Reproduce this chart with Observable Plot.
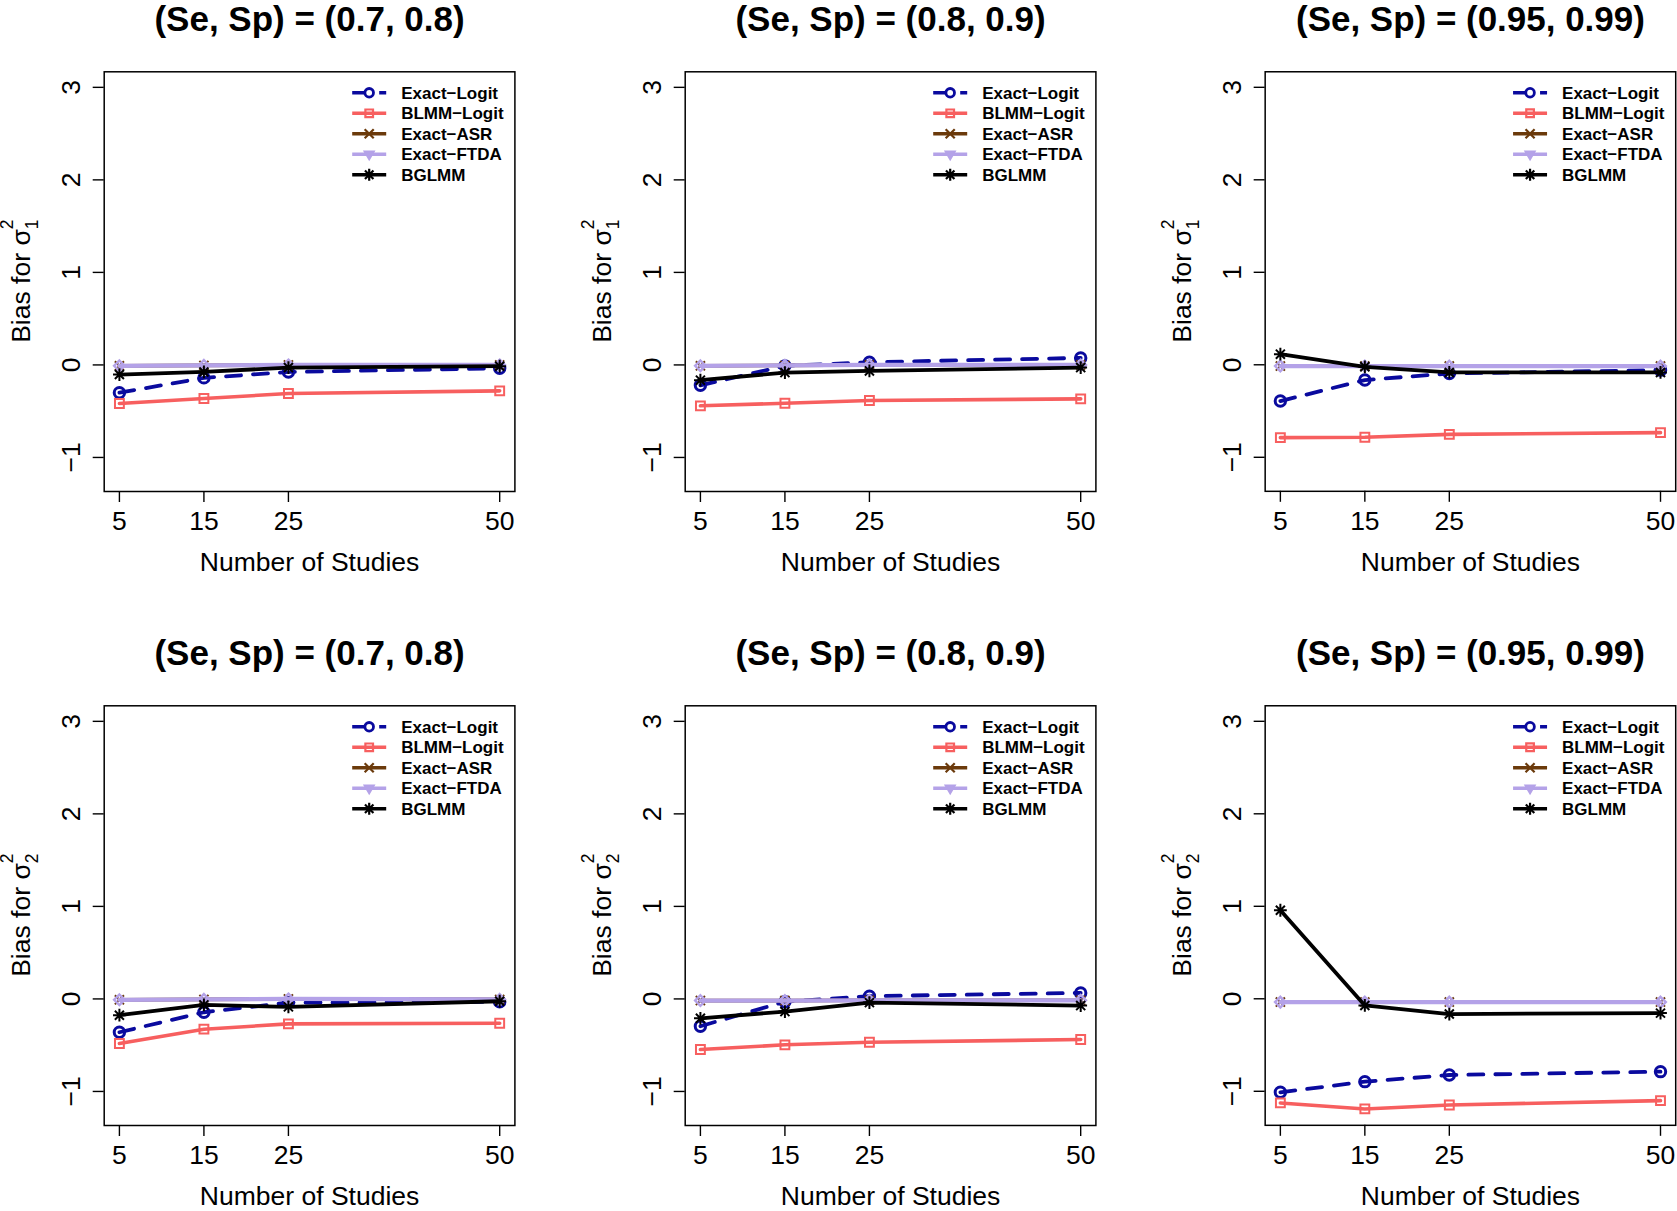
<!DOCTYPE html>
<html><head><meta charset="utf-8">
<script src="https://cdn.jsdelivr.net/npm/d3@7"></script>
<script src="https://cdn.jsdelivr.net/npm/@observablehq/plot@0.6"></script>
<style>
html,body{margin:0;padding:0;background:#fff;overflow:hidden;width:1677px;height:1211px;}
.panel{position:absolute;}
</style></head><body><div id="root"></div>
<script>
// ---------- data ----------
const studies = [5, 15, 25, 50];
const xTicks = [5, 15, 25, 50];
const yTicks = [-1, 0, 1, 2, 3];
const methods = ["Exact\u2212Logit", "BLMM\u2212Logit", "Exact\u2212ASR", "Exact\u2212FTDA", "BGLMM"];
const panelTitles = ["(Se, Sp) = (0.7, 0.8)", "(Se, Sp) = (0.8, 0.9)", "(Se, Sp) = (0.95, 0.99)"];
const xLabel = "Number of Studies";

// sigma_1^2 (top row)
const logitS1A = [-0.30, -0.14, -0.076, -0.036];
const blmmS1A  = [-0.417, -0.363, -0.309, -0.28];
const asrS1A   = [-0.01, -0.005, 0, 0];
const ftdaS1A  = [-0.01, -0.005, 0, 0];
const bglmmS1A = [-0.104, -0.076, -0.029, -0.014];

const logitS1B = [-0.22, -0.01, 0.029, 0.076];
const blmmS1B  = [-0.442, -0.414, -0.385, -0.367];
const asrS1B   = [-0.01, -0.005, 0, 0];
const ftdaS1B  = [-0.01, -0.005, 0, 0];
const bglmmS1B = [-0.165, -0.083, -0.065, -0.029];

const logitS1C = [-0.392, -0.165, -0.094, -0.058];
const blmmS1C  = [-0.788, -0.784, -0.752, -0.734];
const asrS1C   = [-0.014, -0.014, -0.014, -0.014];
const ftdaS1C  = [-0.014, -0.014, -0.014, -0.014];
const bglmmS1C = [0.115, -0.022, -0.083, -0.083];

// sigma_2^2 (bottom row)
const logitS2A = [-0.36, -0.144, -0.04, -0.032];
const blmmS2A  = [-0.482, -0.327, -0.27, -0.263];
const asrS2A   = [-0.01, -0.005, 0, -0.005];
const ftdaS2A  = [-0.01, -0.005, 0, -0.005];
const bglmmS2A = [-0.176, -0.065, -0.086, -0.025];

const logitS2B = [-0.295, -0.03, 0.03, 0.065];
const blmmS2B  = [-0.547, -0.496, -0.468, -0.439];
const asrS2B   = [-0.018, -0.018, -0.015, -0.015];
const ftdaS2B  = [-0.018, -0.018, -0.015, -0.015];
const bglmmS2B = [-0.21, -0.137, -0.04, -0.072];

const logitS2C = [-1.011, -0.896, -0.824, -0.788];
const blmmS2C  = [-1.126, -1.191, -1.148, -1.101];
const asrS2C   = [-0.036, -0.036, -0.036, -0.036];
const ftdaS2C  = [-0.036, -0.036, -0.036, -0.036];
const bglmmS2C = [0.957, -0.072, -0.165, -0.155];

// ---------- styling ----------
const FONT = '"Liberation Sans", Arial, Helvetica, sans-serif';
const colors = ["#0A0A9E", "#F75F5F", "#6B3A0B", "#B4A2E8", "#000000"];

const asterisk8 = {
  draw(ctx, size) {
    const r = Math.sqrt(size / Math.PI), d = r / Math.SQRT2;
    ctx.moveTo(-r, 0); ctx.lineTo(r, 0);
    ctx.moveTo(0, -r); ctx.lineTo(0, r);
    ctx.moveTo(-d, -d); ctx.lineTo(d, d);
    ctx.moveTo(-d, d); ctx.lineTo(d, -d);
  }
};
const triDown = {
  draw(ctx, size) {
    const r = Math.sqrt(size / Math.PI);
    ctx.moveTo(-r, -r * 0.6); ctx.lineTo(r, -r * 0.6); ctx.lineTo(0, r * 1.1); ctx.closePath();
  }
};

const lineStyles = [
  {stroke: colors[0], strokeWidth: 3.8, strokeDasharray: "15,12"},
  {stroke: colors[1], strokeWidth: 3.6},
  {stroke: colors[2], strokeWidth: 3.6},
  {stroke: colors[3], strokeWidth: 4.2},
  {stroke: colors[4], strokeWidth: 3.8}
];
const dotStyles = [
  {symbol: "circle", r: 5.2, stroke: colors[0], strokeWidth: 3, fill: "none"},
  {symbol: "square", r: 5, stroke: colors[1], strokeWidth: 2, fill: "none"},
  {symbol: "times", r: 4.2, stroke: colors[2], strokeWidth: 2, fill: "none"},
  {symbol: "diamond2", r: 4.8, stroke: colors[3], strokeWidth: 2.4, fill: "none"},
  {symbol: asterisk8, r: 6.4, stroke: colors[4], strokeWidth: 2, fill: "none"}
];

const panels = [
  {title: panelTitles[0], sub: "1", series: [logitS1A, blmmS1A, asrS1A, ftdaS1A, bglmmS1A]},
  {title: panelTitles[1], sub: "1", series: [logitS1B, blmmS1B, asrS1B, ftdaS1B, bglmmS1B]},
  {title: panelTitles[2], sub: "1", series: [logitS1C, blmmS1C, asrS1C, ftdaS1C, bglmmS1C]},
  {title: panelTitles[0], sub: "2", series: [logitS2A, blmmS2A, asrS2A, ftdaS2A, bglmmS2A]},
  {title: panelTitles[1], sub: "2", series: [logitS2B, blmmS2B, asrS2B, ftdaS2B, bglmmS2B]},
  {title: panelTitles[2], sub: "2", series: [logitS2C, blmmS2C, asrS2C, ftdaS2C, bglmmS2C]}
];

function yLabelMark(sub) {
  return (index, scales, values, dims) => {
    const cy = (dims.marginTop + dims.height - dims.marginBottom) / 2;
    const t = d3.create("svg:text")
      .attr("transform", `translate(30.4,${cy}) rotate(-90)`)
      .attr("text-anchor", "middle").attr("font-size", 26.5)
      .attr("font-family", FONT).attr("fill", "black");
    t.append("tspan").text("Bias for \u03C3");
    t.append("tspan").attr("font-size", 17.5).attr("dy", 7.6).text(sub);
    t.append("tspan").attr("font-size", 17.5).attr("dx", -9.7).attr("dy", -25).text("2");
    return t.node();
  };
}

function legendMark() {
  return (index, scales, values, dims) => {
    const g = d3.create("svg:g").attr("font-family", FONT).attr("text-anchor", "start");
    const x0 = dims.marginLeft, y0 = dims.marginTop;
    const markerSym = [d3.symbolCircle, d3.symbolSquare, d3.symbolTimes, triDown, asterisk8];
    const markerSize = [Math.PI * 4.3 * 4.3, Math.PI * 4.3 * 4.3, Math.PI * 4.2 * 4.2, Math.PI * 5 * 5, Math.PI * 6 * 6];
    methods.forEach((m, i) => {
      const y = y0 + 21.5 + i * 20.5;
      const ls = lineStyles[i];
      g.append("line").attr("x1", x0 + 248.5).attr("x2", x0 + 282.5).attr("y1", y).attr("y2", y)
        .attr("stroke", ls.stroke).attr("stroke-width", 3.6)
        .attr("stroke-dasharray", ls.strokeDasharray || null);
      const p = g.append("path").attr("transform", `translate(${x0 + 265.5},${y})`)
        .attr("d", d3.symbol(markerSym[i], markerSize[i])());
      if (i === 3) p.attr("fill", colors[3]).attr("stroke", colors[3]).attr("stroke-width", 1.5);
      else p.attr("fill", i === 0 ? "white" : "none").attr("stroke", colors[i]).attr("stroke-width", i === 0 ? 2.8 : 2.2);
      g.append("text").attr("x", x0 + 297.5).attr("y", y).attr("dy", "0.36em").attr("text-anchor", "start")
        .attr("font-size", 17).attr("font-weight", "bold").attr("fill", "black").text(m);
    });
    return g.node();
  };
}

const W = 516, H = 578;
const root = document.getElementById("root");
panels.forEach((p, k) => {
  const col = k % 3, row = Math.floor(k / 3);
  const marks = [
    Plot.frame({stroke: "black", strokeWidth: 1.5}),
    Plot.axisX({ticks: xTicks, tickSize: 11, tickPadding: 9, fontSize: 26.5, label: null, strokeWidth: 1.4}),
    Plot.axisY({ticks: yTicks, tickSize: 11, tickFormat: () => "", label: null, strokeWidth: 1.4}),
    Plot.text(yTicks, {y: d => d, text: d => d < 0 ? "\u2212" + Math.abs(d) : String(d), frameAnchor: "left",
      dx: -33, rotate: -90, fontSize: 26.5, textAnchor: "middle", lineAnchor: "middle"}),
    Plot.text([p.title], {text: d => d, frameAnchor: "top", dy: -52, fontSize: 35, fontWeight: "bold", lineAnchor: "middle"}),
    Plot.text([xLabel], {text: d => d, frameAnchor: "bottom", dy: 71, fontSize: 26.5, lineAnchor: "middle"}),
    yLabelMark(p.sub),
    legendMark()
  ];
  p.series.forEach((vals, i) => {
    const data = studies.map((s, j) => ({n: s, bias: vals[j]}));
    marks.push(Plot.line(data, {x: "n", y: "bias", ...lineStyles[i]}));
    marks.push(Plot.dot(data, {x: "n", y: "bias", ...dotStyles[i]}));
  });
  const chart = Plot.plot({
    width: W, height: H,
    marginLeft: 103.7, marginRight: W - 514.4, marginTop: 71.3, marginBottom: H - 491,
    style: {fontFamily: FONT, color: "black", background: "white", overflow: "visible"},
    x: {domain: [3.2, 51.8]},
    y: {domain: [-1.368, 3.168]},
    marks
  });
  const div = document.createElement("div");
  div.className = "panel";
  div.style.left = (col * 580.6) + "px";
  div.style.top = (row * 633.5) + "px";
  div.appendChild(chart);
  root.appendChild(div);
});
</script></body></html>
